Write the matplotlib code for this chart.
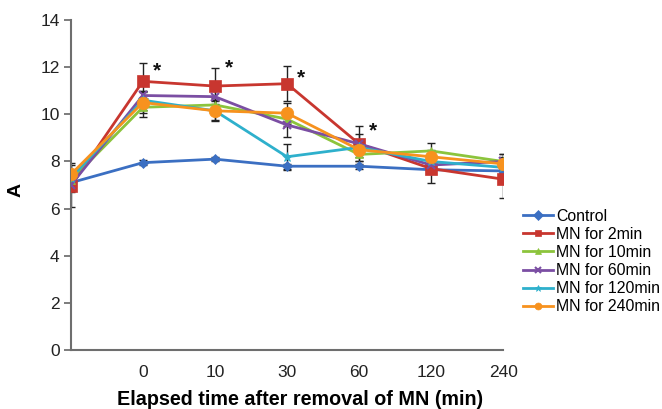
import matplotlib
matplotlib.use("Agg")
import matplotlib.pyplot as plt
import numpy as np

plt.rcParams['font.family'] = ['Liberation Sans', 'DejaVu Sans']

categories = ["", "0", "10", "30", "60", "120", "240"]
series_names = ["Control", "MN for 2min", "MN for 10min", "MN for 60min",
                "MN for 120min", "MN for 240min"]
control = [7.1, 7.95, 8.1, 7.8, 7.8, 7.65, 7.6]
mn2 = [6.95, 11.4, 11.2, 11.3, 8.75, 7.7, 7.25]
mn10 = [7.2, 10.3, 10.4, 9.8, 8.3, 8.45, 8.0]
mn60 = [7.0, 10.8, 10.75, 9.55, 8.75, 7.85, 8.0]
mn120 = [7.3, 10.6, 10.15, 8.2, 8.6, 8.0, 7.75]
mn240 = [7.45, 10.5, 10.15, 10.05, 8.5, 8.2, 7.9]

control_err = [0.1, 0.1, 0.1, 0.1, 0.1, 0.1, 0.1]
mn2_err = [0.9, 0.78, 0.75, 0.75, 0.75, 0.6, 0.8]
mn10_err = [0.3, 0.4, 0.3, 0.3, 0.3, 0.35, 0.3]
mn60_err = [0.3, 0.2, 0.35, 0.5, 0.4, 0.3, 0.3]
mn120_err = [0.3, 0.4, 0.4, 0.55, 0.3, 0.3, 0.3]
mn240_err = [0.5, 0.45, 0.45, 0.45, 0.3, 0.3, 0.3]

star_idx = [1, 2, 3, 4]
star_y = [11.85, 11.95, 11.55, 9.3]

values = [control, mn2, mn10, mn60, mn120, mn240]
errors = [control_err, mn2_err, mn10_err, mn60_err, mn120_err, mn240_err]
colors = ["#3b6fc2", "#c8362f", "#8cc43c", "#7b4ea3", "#2eb0cc", "#f7921e"]
markers = ["D", "s", "^", "x", "*", "o"]
msizes = [5, 9, 6, 6, 7, 9]

fig = plt.figure(figsize=(6.62, 4.09), dpi=100)
ax = fig.add_axes([0.107, 0.144, 0.653, 0.807])

x = np.arange(len(categories))
handles = []
for i, (vals, errs, c, m, ms, name) in enumerate(zip(values, errors, colors, markers, msizes, series_names)):
    ax.errorbar(x, vals, yerr=errs, fmt='none', ecolor="#222222", elinewidth=1.0,
                capsize=3, capthick=1.0, zorder=2 + i * 0.1)
    h, = ax.plot(x, vals, color=c, lw=2.0, marker=m, markersize=ms,
                 markeredgecolor=c, markeredgewidth=1.5 if m == "x" else 0.5,
                 zorder=3 + i * 0.1, label=name)
    handles.append(h)

for si, sy in zip(star_idx, star_y):
    ax.text(si + 0.2, sy, "*", fontsize=15, fontweight='bold', ha='center',
            va='center', color='#111111')

ax.set_xlim(0, 6)
ax.set_ylim(0, 14)
ax.set_yticks(np.arange(0, 15, 2))
ax.set_xticks(x)
ax.set_xticklabels(categories, fontsize=12.5, color="#222222")
ax.tick_params(axis='x', length=0, pad=11)
ax.tick_params(axis='y', length=5, width=1.2, color="#666666", labelsize=12.5,
               labelcolor="#222222", pad=3)
for s in ['top', 'right']:
    ax.spines[s].set_visible(False)
for s in ['left', 'bottom']:
    ax.spines[s].set_color("#6e6e6e")
    ax.spines[s].set_linewidth(1.5)

ax.set_xlabel("Elapsed time after removal of MN (min)", fontsize=14.2,
              fontweight='bold', labelpad=7, x=0.53)
fig.text(0.024, 0.535, "A", fontsize=14, fontweight='bold', rotation=90,
         ha='center', va='center')

leg = fig.legend(handles=handles, loc='upper left',
                 bbox_to_anchor=(0.79, 0.49), frameon=False, fontsize=11.4,
                 handlelength=1.9, handletextpad=0.2, labelspacing=0.2,
                 borderaxespad=0, borderpad=0)
for h in leg.legend_handles:
    h.set_markersize(5)

fig.savefig("out.png", dpi=100)
